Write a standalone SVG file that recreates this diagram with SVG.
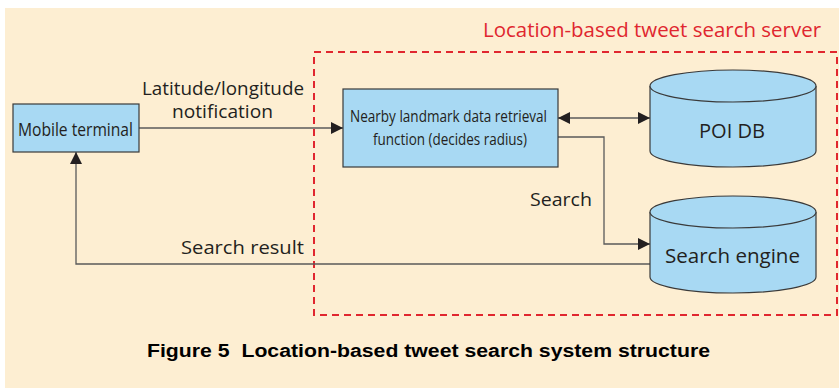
<svg xmlns="http://www.w3.org/2000/svg" width="839" height="388" viewBox="0 0 839 388">
<style>
.t{font-family:"Open Sans","Noto Sans","Liberation Sans",sans-serif;fill:#231f20}
.box{fill:#a8d9f3;stroke:#3a3a3a;stroke-width:1.2}
.ln{fill:none;stroke:#5a5a5a;stroke-width:1.3}
</style>
<defs>
<marker id="ah" viewBox="0 0 12 12" refX="12" refY="6" markerWidth="12" markerHeight="12" markerUnits="userSpaceOnUse" orient="auto-start-reverse">
<path d="M0,0 L12,6 L0,12 Z" fill="#231f20"/>
</marker>
</defs>
<rect x="0" y="0" width="839" height="388" fill="#ffffff"/>
<rect x="5" y="8" width="834" height="380" fill="#fdeed2"/>
<g id="server">
<rect x="314" y="52" width="523" height="263" fill="none" stroke="#e0262f" stroke-width="2" stroke-dasharray="7,5"/>
<text x="483" y="37" class="t" style="fill:#e0262f" font-size="20" textLength="338" lengthAdjust="spacingAndGlyphs">Location-based tweet search server</text>
</g>
<g id="connectors">
<line class="ln" x1="139" y1="128" x2="343" y2="128" marker-end="url(#ah)"/>
<line class="ln" x1="558" y1="118" x2="650" y2="118" marker-start="url(#ah)" marker-end="url(#ah)"/>
<polyline class="ln" points="558,137 604,137 604,244 650,244" marker-end="url(#ah)"/>
<polyline class="ln" points="650,264 76,264 76,152" marker-end="url(#ah)"/>
<text x="142" y="95" class="t" font-size="18" textLength="162" lengthAdjust="spacingAndGlyphs">Latitude/longitude</text>
<text x="172" y="118" class="t" font-size="18" textLength="101" lengthAdjust="spacingAndGlyphs">notification</text>
<text x="530" y="206" class="t" font-size="18" textLength="62" lengthAdjust="spacingAndGlyphs">Search</text>
<text x="181" y="254" class="t" font-size="18" textLength="123" lengthAdjust="spacingAndGlyphs">Search result</text>
</g>
<g id="mobile">
<rect class="box" x="13" y="104" width="126" height="48"/>
<text x="18" y="136" class="t" font-size="17.5" textLength="115" lengthAdjust="spacingAndGlyphs">Mobile terminal</text>
</g>
<g id="retrieval">
<rect class="box" x="343" y="89" width="215" height="78"/>
<text x="350" y="122" class="t" font-size="16.5" textLength="197" lengthAdjust="spacingAndGlyphs">Nearby landmark data retrieval</text>
<text x="373" y="145" class="t" font-size="16.5" textLength="154" lengthAdjust="spacingAndGlyphs">function (decides radius)</text>
</g>
<g id="poidb">
<path class="box" d="M650,86 A83,16 0 0 1 816,86 L816,151 A83,16 0 0 1 650,151 Z"/>
<path class="box" d="M650,86 A83,16 0 0 0 816,86" fill="none"/>
<text x="699" y="138" class="t" font-size="20" textLength="66" lengthAdjust="spacingAndGlyphs">POI DB</text>
</g>
<g id="engine">
<path class="box" d="M650,212 A83,16 0 0 1 816,212 L816,277 A83,16 0 0 1 650,277 Z"/>
<path class="box" d="M650,212 A83,16 0 0 0 816,212" fill="none"/>
<text x="665" y="263" class="t" font-size="19.5" textLength="135" lengthAdjust="spacingAndGlyphs">Search engine</text>
</g>
<g id="caption">
<text x="147" y="357" font-family="'Liberation Sans',Arial,sans-serif" font-weight="bold" font-size="18" fill="#000" textLength="563" lengthAdjust="spacingAndGlyphs" xml:space="preserve">Figure 5  Location-based tweet search system structure</text>
</g>
</svg>
